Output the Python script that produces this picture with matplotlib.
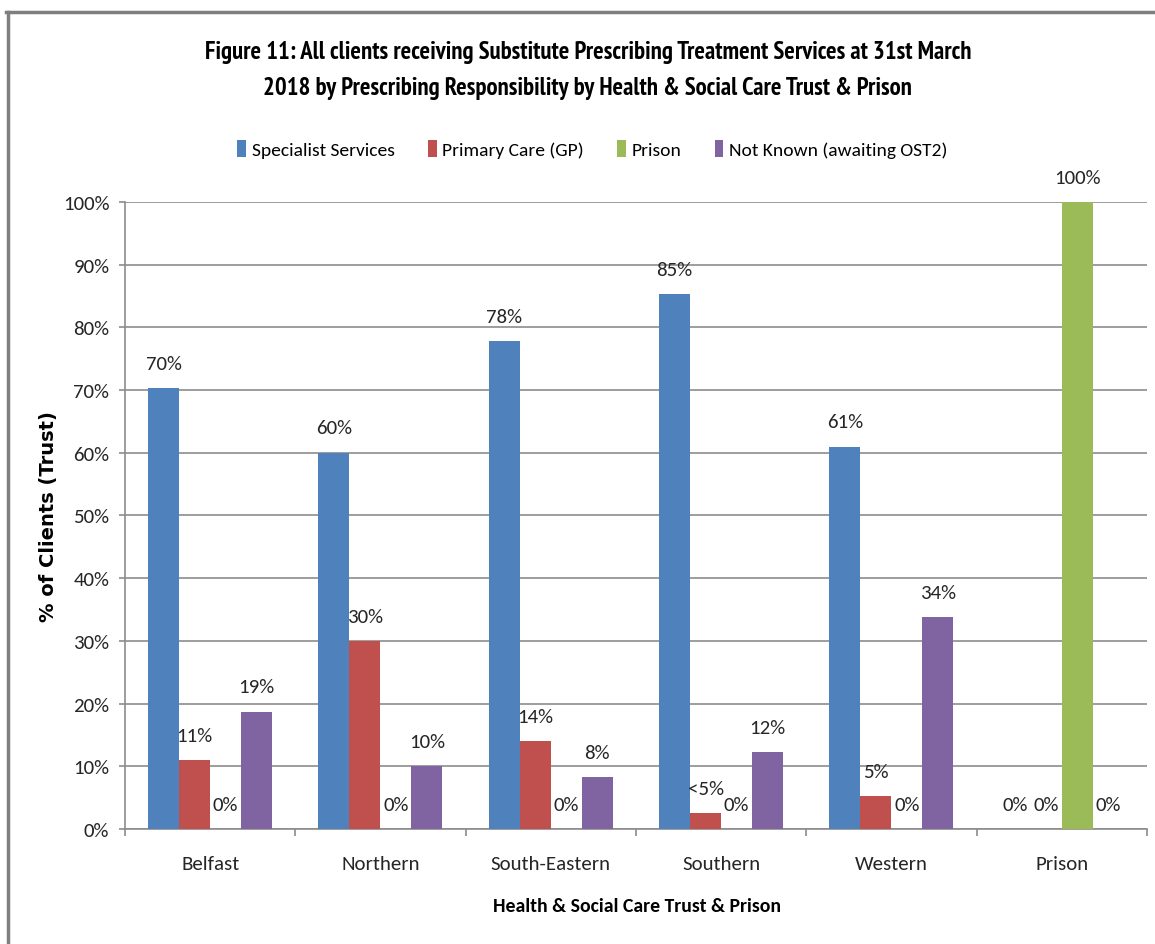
import matplotlib
matplotlib.use("Agg")
import matplotlib.pyplot as plt
from matplotlib.lines import Line2D
import numpy as np

plt.rcParams['font.family'] = ['Carlito', 'DejaVu Sans']

categories = ["Belfast", "Northern", "South-Eastern", "Southern", "Western", "Prison"]
series_names = ["Specialist Services", "Primary Care (GP)", "Prison", "Not Known (awaiting OST2)"]
specialist = [70.3, 60.0, 77.8, 85.3, 61.0, 0.0]
primary = [11.0, 30.0, 14.0, 2.5, 5.2, 0.0]
prison = [0.0, 0.0, 0.0, 0.0, 0.0, 100.0]
not_known = [18.7, 10.0, 8.3, 12.2, 33.8, 0.0]
labels_specialist = ["70%", "60%", "78%", "85%", "61%", "0%"]
labels_primary = ["11%", "30%", "14%", "<5%", "5%", "0%"]
labels_prison = ["0%", "0%", "0%", "0%", "0%", "100%"]
labels_not_known = ["19%", "10%", "8%", "12%", "34%", "0%"]

colors = ["#4F81BD", "#C0504D", "#9BBB59", "#8064A2"]
grid_col = "#8C8C8C"
text_col = "#262626"

fig = plt.figure(figsize=(11.55, 9.45), dpi=100)
ax = fig.add_axes([0.1082, 0.1217, 0.8848, 0.6635])

x = np.arange(len(categories))
width = 0.182
offsets = [-1.5 * width, -0.5 * width, 0.5 * width, 1.5 * width]
data = [specialist, primary, prison, not_known]
labels = [labels_specialist, labels_primary, labels_prison, labels_not_known]

for vals, labs, off, col, name in zip(data, labels, offsets, colors, series_names):
    ax.bar(x + off, vals, width, color=col, label=name, zorder=3)
    for xi, v, lab in zip(x, vals, labs):
        ax.text(xi + off, v + 2.6, lab, ha="center", va="bottom",
                fontsize=15, color=text_col)

ax.set_xlim(-0.5, len(categories) - 0.5)
ax.set_ylim(0, 100)
ax.set_yticks(np.arange(0, 101, 10))
ax.set_yticklabels([f"{t}%" for t in range(0, 101, 10)], fontsize=15, color=text_col)
ax.yaxis.grid(True, color=grid_col, linewidth=1.2, zorder=0)
ax.set_axisbelow(True)

ax.set_xticks(x)
ax.set_xticklabels(categories, fontsize=15, color=text_col)
ax.set_xticks(np.arange(-0.5, len(categories), 1), minor=True)
ax.tick_params(axis="x", which="major", length=0, pad=19)
ax.tick_params(axis="x", which="minor", length=5, color=grid_col, width=1.2)
ax.tick_params(axis="y", length=4.3, color=grid_col, width=1.2, pad=7)

for s in ["top", "right"]:
    ax.spines[s].set_visible(False)
for s in ["left", "bottom"]:
    ax.spines[s].set_color(grid_col)
    ax.spines[s].set_linewidth(1.2)

ax.set_ylabel("% of Clients (Trust)", fontsize=14, fontweight="bold",
              family=["DejaVu Sans"])
ax.yaxis.set_label_coords(-0.066, 0.50)
ax.set_xlabel("Health & Social Care Trust & Prison", fontsize=14.2,
              fontweight="bold")
ax.xaxis.set_label_coords(0.501, -0.108)

title_font = ["PT Sans Narrow", "Carlito", "DejaVu Sans"]
fig.text(0.509, 0.944, "Figure 11: All clients receiving Substitute Prescribing Treatment Services at 31st March",
         ha="center", va="center", fontsize=17.8, fontweight="bold", family=title_font)
fig.text(0.509, 0.906, "2018 by Prescribing Responsibility by Health & Social Care Trust & Prison",
         ha="center", va="center", fontsize=17.8, fontweight="bold", family=title_font)

ax.legend(loc="center", bbox_to_anchor=(0.513, 0.841), bbox_transform=fig.transFigure,
          ncol=4, frameon=False, fontsize=14, handlelength=0.45, handleheight=1.0,
          handletextpad=0.3, columnspacing=1.7)

# outer chart frame
fig.add_artist(Line2D([0.005, 1.0], [0.986, 0.986], color="#7F7F7F", linewidth=2.5))
fig.add_artist(Line2D([0.0065, 0.0065], [0.0, 0.986], color="#7F7F7F", linewidth=2.5))

fig.savefig("out.png", dpi=100)
